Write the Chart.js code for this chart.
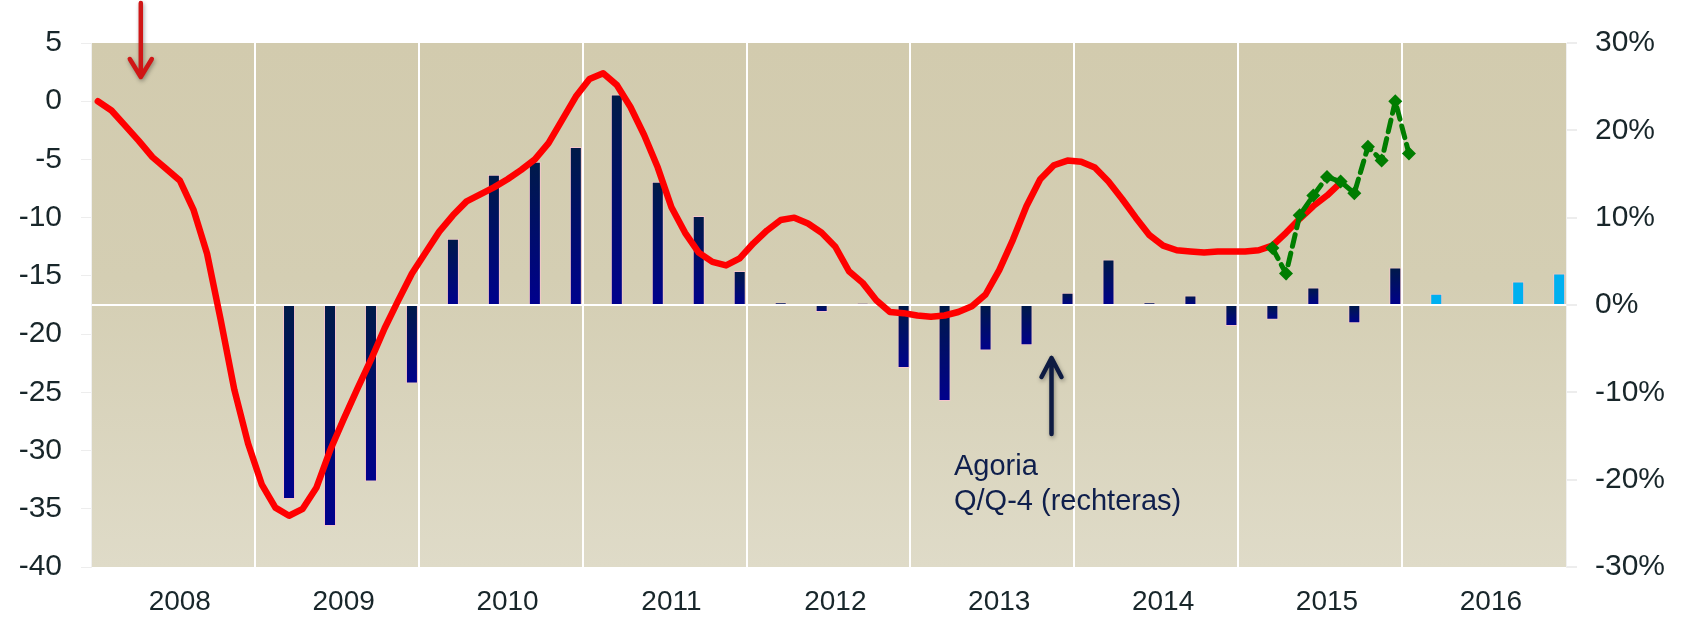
<!DOCTYPE html>
<html>
<head>
  <meta charset="utf-8">
  <title>Agoria</title>
  <script src="https://cdn.jsdelivr.net/npm/chart.js@4.4.1/dist/chart.umd.min.js"></script>
  <style>
    body { margin: 0; background: #ffffff; }
    #wrap { width: 1683px; height: 617px; }
  </style>
</head>
<body>
  <div id="wrap">
    <canvas id="myChart" width="1683" height="617"></canvas>
  </div>

  <script>
    // categories: one slot per month, year labels shown mid-year
    const years = ['2008', '2009', '2010', '2011', '2012', '2013', '2014', '2015', '2016'];
    const months = ['01', '02', '03', '04', '05', '06', '07', '08', '09', '10', '11', '12'];

    // red line (left axis), monthly from 2008-01
    const redLine = [
      0, -0.8, -2.1, -3.4, -4.8, -5.8, -6.8, -9.3, -13.1, -18.8, -24.8, -29.4,
      -32.9, -34.9, -35.6, -35.0, -33.2, -30.0, -27.3, -24.7, -22.2, -19.5, -17.1, -14.8,
      -13.0, -11.2, -9.8, -8.6, -8.0, -7.4, -6.7, -5.9, -5.0, -3.6, -1.6, 0.4,
      1.9, 2.4, 1.4, -0.5, -2.9, -5.7, -9.1, -11.3, -13.0, -13.8, -14.1, -13.5,
      -12.2, -11.1, -10.2, -10.0, -10.5, -11.3, -12.5, -14.6, -15.6, -17.1, -18.1, -18.2,
      -18.4, -18.5, -18.4, -18.1, -17.6, -16.6, -14.5, -11.9, -9.0, -6.7, -5.5, -5.1,
      -5.2, -5.7, -6.9, -8.4, -10.0, -11.5, -12.4, -12.8, -12.9, -13.0, -12.9, -12.9,
      -12.9, -12.8, -12.4, -11.3, -10.1, -9.0, -8.1, -7.0
    ];

    // green dashed line (left axis), monthly from 2015-03
    const greenStart = '2015-03';
    const greenLine = [-12.6, -14.8, -9.8, -8.1, -6.5, -6.9, -7.9, -3.9, -5.1, 0.0, -4.5];

    // Agoria Q/Q-4 bars (right axis, %), quarterly from 2009 Q1 to 2015 Q4
    const barStart = '2009';
    const agoriaBars = [
      -22.2, -25.3, -20.2, -9.0,
      7.6, 14.9, 16.4, 18.1,
      24.1, 14.1, 10.2, 3.9,
      0.3, -0.8, 0.2, -7.2,
      -11.0, -5.2, -4.6, 1.4,
      5.2, 0.3, 1.1, -2.4,
      -1.7, 2.0, -2.1, 4.3
    ];
    // forecast bars 2016
    const forecastYear = '2016';
    const forecastBars = [1.3, null, 2.7, 3.6];

    const leftTicks = { min: -40, max: 5, step: 5 };
    const rightTicks = { min: -30, max: 30, step: 10 };

    // ---- build the monthly table ----
    const labels = [];
    years.forEach(y => months.forEach(m => labels.push(y + '-' + m)));

    const redData = labels.map((l, i) => i < redLine.length ? redLine[i] : null);
    const g0 = labels.indexOf(greenStart);
    const greenData = labels.map((l, i) => (i >= g0 && i < g0 + greenLine.length) ? greenLine[i - g0] : null);

    function quarterly(startYear, values) {
      const out = labels.map(() => null);
      const s = labels.indexOf(startYear + '-01');
      values.forEach((v, q) => { out[s + q * 3 + 2] = v; });
      return out;
    }
    const barData = quarterly(barStart, agoriaBars);
    const forecastData = quarterly(forecastYear, forecastBars);

    const font = 'Liberation Sans, Arial, sans-serif';
    const tickColor = '#18262a';

    function barGradient(c) {
      const chart = c.chart;
      if (!chart.chartArea || c.raw == null) return '#001848';
      const y = chart.scales.y1;
      const p0 = y.getPixelForValue(0), p1 = y.getPixelForValue(c.raw);
      const g = chart.ctx.createLinearGradient(0, Math.min(p0, p1), 0, Math.max(p0, p1) + 1);
      g.addColorStop(0, '#001a48');
      g.addColorStop(1, '#00008e');
      return g;
    }

    const plotBackground = {
      id: 'plotBackground',
      beforeDraw(chart) {
        const a = chart.chartArea, ctx = chart.ctx;
        const g = ctx.createLinearGradient(0, a.top, 0, a.bottom);
        g.addColorStop(0, '#d2cbae');
        g.addColorStop(0.45, '#d4ceb3');
        g.addColorStop(1, '#dfdbc8');
        ctx.save();
        ctx.fillStyle = g;
        ctx.fillRect(a.left, a.top, a.right - a.left, a.bottom - a.top);
        ctx.restore();
      }
    };

    function arrow(ctx, x, yTip, yTail, head, half, color, width) {
      ctx.save();
      ctx.strokeStyle = color;
      ctx.lineWidth = width;
      ctx.lineCap = 'round';
      ctx.lineJoin = 'round';
      ctx.shadowColor = 'rgba(0,0,0,0.35)';
      ctx.shadowBlur = 4;
      ctx.shadowOffsetX = 1;
      ctx.shadowOffsetY = 2;
      ctx.beginPath();
      ctx.moveTo(x, yTail);
      ctx.lineTo(x, yTip);
      const dir = yTail > yTip ? 1 : -1;
      ctx.moveTo(x - half, yTip + dir * head);
      ctx.lineTo(x, yTip);
      ctx.lineTo(x + half, yTip + dir * head);
      ctx.stroke();
      ctx.restore();
    }

    const annotations = {
      id: 'annotations',
      afterDraw(chart) {
        const ctx = chart.ctx;
        const x = chart.scales.x;
        // red arrow pointing down, near 2008-04
        arrow(ctx, x.getPixelForValue(labels.indexOf('2008-04')) + 2, 77, 3, 18, 11, '#d01616', 4.5);
        // dark arrow pointing up at the bars, near 2013-12
        arrow(ctx, x.getPixelForValue(labels.indexOf('2013-12')) - 16, 358, 434, 19, 10, '#0e1b42', 4.5);
        ctx.save();
        ctx.fillStyle = '#0f1f4c';
        ctx.font = '29px ' + font;
        ctx.textBaseline = 'alphabetic';
        ctx.fillText('Agoria', 954, 475);
        ctx.fillText('Q/Q-4 (rechteras)', 954, 510);
        ctx.restore();
      }
    };

    const ctx = document.getElementById('myChart').getContext('2d');
    const myChart = new Chart(ctx, {
      type: 'bar',
      data: {
        labels: labels,
        datasets: [
          {
            type: 'line',
            label: 'green',
            data: greenData,
            yAxisID: 'y',
            borderColor: '#007d00',
            backgroundColor: '#007d00',
            borderWidth: 5,
            borderDash: [12, 7],
            borderCapStyle: 'round',
            pointStyle: 'rectRot',
            pointRadius: 7,
            pointBorderWidth: 0,
            tension: 0,
            order: 0
          },
          {
            type: 'line',
            label: 'red',
            data: redData,
            yAxisID: 'y',
            borderColor: '#ff0000',
            borderWidth: 6.5,
            borderCapStyle: 'round',
            borderJoinStyle: 'round',
            pointRadius: 0,
            tension: 0,
            order: 1
          },
          {
            label: 'Agoria Q/Q-4',
            data: barData,
            yAxisID: 'y1',
            backgroundColor: barGradient,
            borderColor: '#f6c6cc',
            borderWidth: 1,
            grouped: false,
            barPercentage: 0.88,
            categoryPercentage: 1,
            order: 2
          },
          {
            label: 'forecast',
            data: forecastData,
            yAxisID: 'y1',
            backgroundColor: '#00b0f0',
            borderColor: '#f6c6cc',
            borderWidth: 1,
            grouped: false,
            barPercentage: 0.88,
            categoryPercentage: 1,
            order: 3
          }
        ]
      },
      options: {
        responsive: false,
        animation: false,
        layout: { padding: { top: 43, left: 0, right: 0, bottom: 0 } },
        plugins: {
          legend: { display: false },
          tooltip: { enabled: false }
        },
        scales: {
          x: {
            afterFit: s => { s.height = 50; },
            border: { display: false },
            grid: {
              offset: true,
              drawTicks: false,
              lineWidth: 2,
              color: c => (c.index > 0 && c.index % 12 === 0) ? '#ffffff' : 'rgba(0,0,0,0)'
            },
            ticks: {
              autoSkip: false,
              maxRotation: 0,
              minRotation: 0,
              padding: 18,
              color: tickColor,
              font: { family: font, size: 28 },
              callback: (v, i) => i % 12 === 6 ? labels[i].slice(0, 4) : ''
            }
          },
          y: {
            position: 'left',
            min: leftTicks.min,
            max: leftTicks.max,
            afterFit: s => { s.width = 91; },
            border: { color: '#f0f0f0', width: 1 },
            grid: { drawOnChartArea: false, tickLength: 10, tickColor: '#ededed' },
            ticks: {
              stepSize: leftTicks.step,
              padding: 19,
              color: tickColor,
              font: { family: font, size: 30 }
            }
          },
          y1: {
            position: 'right',
            min: rightTicks.min,
            max: rightTicks.max,
            afterFit: s => { s.width = 117; },
            border: { color: '#f0f0f0', width: 1 },
            grid: {
              drawOnChartArea: true,
              tickLength: 11,
              tickColor: '#ededed',
              lineWidth: 2,
              color: c => (c.tick && c.tick.value === 0) ? '#ffffff' : 'rgba(0,0,0,0)'
            },
            ticks: {
              stepSize: rightTicks.step,
              padding: 18,
              color: tickColor,
              font: { family: font, size: 30 },
              callback: v => v + '%'
            }
          }
        }
      },
      plugins: [plotBackground, annotations]
    });
  </script>
</body>
</html>
